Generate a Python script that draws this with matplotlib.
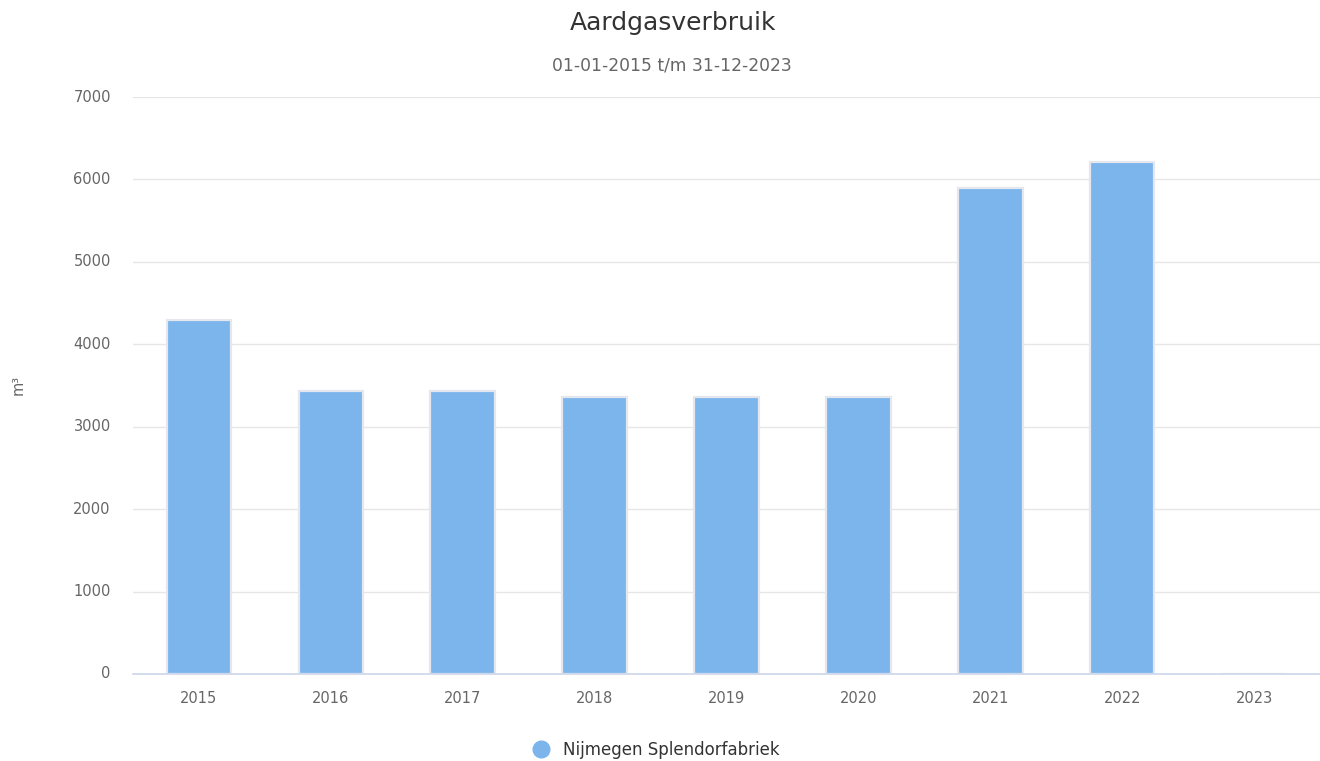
import matplotlib
matplotlib.use("Agg")
import matplotlib.pyplot as plt
from matplotlib.lines import Line2D

years = ["2015", "2016", "2017", "2018", "2019", "2020", "2021", "2022", "2023"]
values = [4300, 3430, 3430, 3360, 3360, 3360, 5900, 6210, 0]
series_name = "Nijmegen Splendorfabriek"
yticks = [0, 1000, 2000, 3000, 4000, 5000, 6000, 7000]

plt.rcParams['font.family'] = ['DejaVu Sans']
fig = plt.figure(figsize=(13.2, 7.61), dpi=100)
ax = fig.add_axes([133/1320, 1-674/761, (1320-133)/1320, (674-97)/761])

x = list(range(len(years)))
ax.bar(x, values, width=0.49, color="#7cb5ec", edgecolor="#e4e8ee", linewidth=1.6, zorder=3)

ax.set_xlim(-0.5, len(years) - 0.5)
ax.set_ylim(0, 7000)
ax.set_yticks(yticks)
ax.set_yticklabels([str(v) for v in yticks])
ax.set_xticks(x)
ax.set_xticklabels(years)
ax.grid(axis="y", color="#e6e6e6", linewidth=1, zorder=0)
ax.set_axisbelow(True)
for s in ["top", "right", "left"]:
    ax.spines[s].set_visible(False)
ax.spines["bottom"].set_color("#ccd6eb")
ax.spines["bottom"].set_linewidth(1.2)
ax.spines["bottom"].set_zorder(4)
ax.tick_params(axis="both", length=0, labelsize=10.5, labelcolor="#666666")
ax.tick_params(axis="x", pad=12)
ax.tick_params(axis="y", pad=16)
for lbl in ax.get_yticklabels():
    lbl.set_verticalalignment("center")

fig.text(18/1320, 1-385/761, "m³", rotation=90, ha="center", va="center", fontsize=10.5, color="#666666")
fig.text(673/1320, 1-23/761, "Aardgasverbruik", ha="center", va="center", fontsize=18, color="#333333")
fig.text(672/1320, 1-65/761, "01-01-2015 t/m 31-12-2023", ha="center", va="center", fontsize=12.3, color="#666666")

handle = Line2D([], [], marker="o", linestyle="none", markersize=12, markerfacecolor="#7cb5ec", markeredgecolor="#7cb5ec")
fig.legend([handle], [series_name], loc="center", bbox_to_anchor=(652/1320, 1-750/761), frameon=False,
           fontsize=12, labelcolor="#333333", handletextpad=0.3)

fig.savefig("out.png", dpi=100, facecolor="white")
